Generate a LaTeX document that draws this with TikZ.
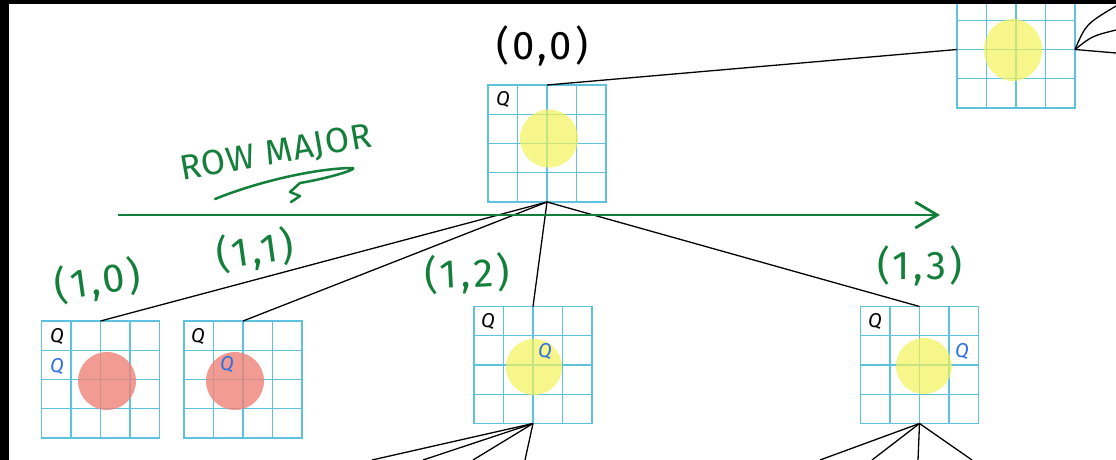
\documentclass[tikz,border=0pt]{standalone}
\usepackage{fontspec}
\setmainfont{Fira Sans}
\usetikzlibrary{calc,arrows.meta}
\definecolor{gridblue}{HTML}{5CC2E0}
\definecolor{pengreen}{HTML}{137F3B}
\definecolor{hiyellow}{HTML}{F3F35A}
\definecolor{hired}{HTML}{EE8378}
\definecolor{qblue}{HTML}{2F6FE0}
\tikzset{
  gbox/.style={draw=gridblue, line width=1.2pt, minimum width=118pt, minimum height=117pt, inner sep=0pt, outer sep=0pt},
  gline/.style={draw=gridblue, line width=1.2pt},
  ycirc/.style={fill=hiyellow, fill opacity=0.7},
  rcirc/.style={fill=hired, fill opacity=0.8},
  edge/.style={draw=black, line width=1.3pt},
  qblack/.style={text=black, font=\fontsize{20}{20}\selectfont\itshape, inner sep=0pt},
  qblu/.style={text=qblue, font=\fontsize{20}{20}\selectfont\itshape, inner sep=0pt},
  glabel/.style={text=pengreen, font=\fontsize{40}{40}\selectfont\addfontfeature{LetterSpace=8}, inner sep=0pt},
  klabel/.style={text=black, font=\fontsize{40}{40}\selectfont\addfontfeature{LetterSpace=8}, inner sep=0pt},
  garrow/.style={draw=pengreen, line width=2.8pt, -{Straight Barb[length=22pt,width=26pt,line width=2.8pt]}},
  pen/.style={draw=pengreen, line width=2.8pt, line cap=round, line join=round}
}
\newcommand\qgrid[3]{%
  \node[gbox] (#1) at (#2,#3) {};
  \foreach \k in {1,2,3} {
    \draw[gline] ($(#1.north west)!\k/4!(#1.north east)$) -- ($(#1.south west)!\k/4!(#1.south east)$);
    \draw[gline] ($(#1.north west)!\k/4!(#1.south west)$) -- ($(#1.north east)!\k/4!(#1.south east)$);
  }}
\begin{document}
\begin{tikzpicture}[x=1pt,y=-1pt]
\useasboundingbox (0,0) rectangle (1116,460);
\fill[white] (0,0) rectangle (1116,460);
% grids
\qgrid{g00}{547}{143.5}
\qgrid{gtr}{1016}{49.5}
\qgrid{g10}{100.5}{379.5}
\qgrid{g11}{243}{379.5}
\qgrid{g12}{533}{365}
\qgrid{g13}{919.5}{365}
% highlights
\fill[ycirc] ($(g00.center)+(2,-5)$) circle (29pt);
\fill[ycirc] ($(gtr.center)+(-3,0.5)$) ellipse (29pt and 31pt);
\fill[rcirc] ($(g10.center)+(6.5,1.5)$) circle (29pt);
\fill[rcirc] ($(g11.center)+(-8,1.5)$) circle (29pt);
\fill[ycirc] ($(g12.center)+(1,2)$) circle (28pt);
\fill[ycirc] ($(g13.center)+(4.5,1)$) circle (28pt);
% queens
\node[qblack] (q00) at (503,100) {Q};
\node[qblack] (q10a) at (57,337) {Q};
\node[qblu] (q10b) at (57,367) {Q};
\node[qblack] (q11a) at (198,337) {Q};
\node[qblu] (q11b) at (227,365) {Q};
\node[qblack] (q12a) at (488,322) {Q};
\node[qblu] (q12b) at (545,352) {Q};
\node[qblack] (q13a) at (875,322) {Q};
\node[qblu] (q13b) at (962,352) {Q};
% tree edges
\draw[edge] (g00.north) -- (gtr.west);
\draw[edge] (g00.south) -- (g10.north);
\draw[edge] (g00.south) -- (g11.north);
\draw[edge] (g00.south) -- (g12.north);
\draw[edge] (g00.south) -- (g13.north);
% free ends
\coordinate (b1) at (372,460);
\coordinate (b2) at (423,460);
\coordinate (b3) at (473,460);
\coordinate (b4) at (525,460);
\coordinate (c1) at (820,460);
\coordinate (c2) at (872,460);
\coordinate (c3) at (918,460);
\coordinate (c4) at (972,460);
\coordinate (t1) at (1116,6);
\coordinate (t2) at (1116,30);
\coordinate (t3) at (1116,53);
\foreach \e in {b1,b2,b3,b4} \draw[edge] (g12.south) -- (\e);
\foreach \e in {c1,c2,c3,c4} \draw[edge] (g13.south) -- (\e);
\draw[edge] (gtr.east) .. controls (1086,24) .. (t1);
\draw[edge] (gtr.east) .. controls (1092,36) .. (t2);
\draw[edge] (gtr.east) -- (t3);
% row major arrow
\coordinate (ra) at (118,215);
\coordinate (rb) at (940,215);
\draw[garrow] (ra) -- (rb);
\node[text=pengreen, font=\fontsize{35}{35}\selectfont\addfontfeature{LetterSpace=3}, inner sep=0pt, rotate=10] (rowmajor) at (276,154) {ROW MAJOR};
\draw[pen, line width=2.5pt] (215,199) .. controls (262,180) and (320,168) .. (353,168) .. controls (358,169) and (330,178) .. (300,183) -- (290,192) -- (300,196) -- (291,202);
% labels
\node[klabel] (l00) at (542,46) {(0,0)};
\node[glabel, rotate=8] (l10) at (98,281) {(1,0)};
\node[glabel, rotate=8] (l11) at (255,251) {(1,1)};
\node[glabel, rotate=3] (l12) at (467,274) {(1,2)};
\node[glabel] (l13) at (920,266) {(1,3)};
% black frame edges
\fill[black] (0,0) rectangle (1116,4);
\fill[black] (0,0) rectangle (9,460);
\end{tikzpicture}
\end{document}
